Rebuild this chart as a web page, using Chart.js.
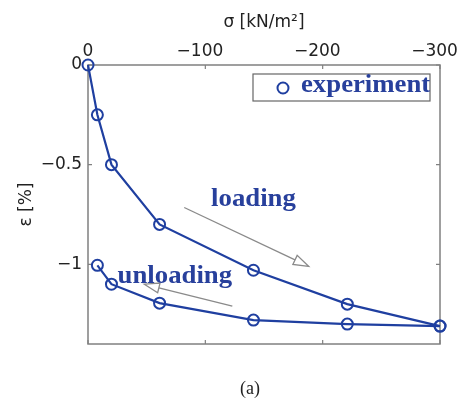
<!DOCTYPE html>
<html>
<head>
<meta charset="utf-8">
<script src="https://cdn.jsdelivr.net/npm/chart.js@4"></script>
<style>
  html, body { margin: 0; padding: 0; background: #fff; }
  #wrap { width: 463px; height: 401px; }
</style>
</head>
<body>
<div id="wrap"><canvas id="strainChart" width="463" height="401"></canvas></div>
<script>
// stress sigma [kN/m2] and strain eps [%]
const sigmaLoading = [0, -8, -20, -61, -141, -221, -300];
const epsLoading = [0, -0.25, -0.5, -0.8, -1.03, -1.2, -1.31];
const sigmaUnloading = [-300, -221, -141, -61, -20, -8];
const epsUnloading = [-1.31, -1.3, -1.28, -1.195, -1.1, -1.005];

const sigmaTicks = [0, -100, -200, -300];
const epsTicks = [0, -0.5, -1];

const blue = '#1f3fa0';
const textBlue = '#28409c';
const frameGrey = '#808080';

function toPoints(xs, ys) {
  return xs.map((x, i) => ({ x: x, y: ys[i] }));
}

function fmt(v) {
  // minus sign as in the printed figure
  return v < 0 ? '\u2212' + Math.abs(v) : String(v);
}

function arrow(ctx, x1, y1, x2, y2) {
  const ang = Math.atan2(y2 - y1, x2 - x1);
  const len = 15, half = 5;
  const bx = x2 - len * Math.cos(ang), by = y2 - len * Math.sin(ang);
  ctx.strokeStyle = '#8a8a8a';
  ctx.lineWidth = 1.3;
  ctx.beginPath();
  ctx.moveTo(x1, y1);
  ctx.lineTo(bx, by);
  ctx.stroke();
  ctx.beginPath();
  ctx.moveTo(x2, y2);
  ctx.lineTo(bx + half * Math.sin(ang), by - half * Math.cos(ang));
  ctx.lineTo(bx - half * Math.sin(ang), by + half * Math.cos(ang));
  ctx.closePath();
  ctx.fillStyle = '#fff';
  ctx.fill();
  ctx.stroke();
}

function serifText(ctx, text, x, y, size, align) {
  ctx.save();
  ctx.font = 'bold ' + size + 'px "Liberation Serif", "Times New Roman", serif';
  ctx.fillStyle = textBlue;
  ctx.textAlign = align;
  ctx.textBaseline = 'middle';
  ctx.translate(x, y);
  ctx.scale(1.07, 1);
  ctx.fillText(text, 0, 0);
  ctx.restore();
}

const framePlugin = {
  id: 'frame',
  beforeDatasetsDraw(chart) {
    const { ctx, chartArea: a, scales } = chart;
    ctx.save();
    ctx.strokeStyle = frameGrey;
    ctx.lineWidth = 1.5;
    ctx.strokeRect(a.left, a.top, a.right - a.left, a.bottom - a.top);
    // inward tick marks on all four sides
    ctx.lineWidth = 1.2;
    ctx.beginPath();
    sigmaTicks.forEach(v => {
      const px = scales.x.getPixelForValue(v);
      ctx.moveTo(px, a.top); ctx.lineTo(px, a.top + 4);
      ctx.moveTo(px, a.bottom); ctx.lineTo(px, a.bottom - 4);
    });
    epsTicks.forEach(v => {
      const py = scales.y.getPixelForValue(v);
      ctx.moveTo(a.left, py); ctx.lineTo(a.left + 4, py);
      ctx.moveTo(a.right, py); ctx.lineTo(a.right - 4, py);
    });
    ctx.stroke();
    ctx.restore();
  },
  afterDatasetsDraw(chart) {
    const { ctx, chartArea: a, scales } = chart;
    const X = v => scales.x.getPixelForValue(v);
    const Y = v => scales.y.getPixelForValue(v);
    ctx.save();
    // direction arrows
    arrow(ctx, X(-82), Y(-0.715), X(-188), Y(-1.01));
    arrow(ctx, X(-123), Y(-1.21), X(-48), Y(-1.1));
    serifText(ctx, 'loading', X(-141), Y(-0.675), 25, 'center');
    serifText(ctx, 'unloading', X(-74), Y(-1.06), 25, 'center');

    // legend box
    const lx = a.right - 187, ly = a.top + 9, lw = 177, lh = 27;
    ctx.fillStyle = '#fff';
    ctx.fillRect(lx, ly, lw, lh);
    ctx.strokeStyle = '#666';
    ctx.lineWidth = 1.2;
    ctx.strokeRect(lx, ly, lw, lh);
    ctx.strokeStyle = blue;
    ctx.lineWidth = 2;
    ctx.beginPath();
    ctx.arc(lx + 30, ly + 14, 5.5, 0, Math.PI * 2);
    ctx.stroke();
    serifText(ctx, 'experiment', lx + 48, ly + 12, 25, 'left');

    // panel caption
    ctx.font = '18px "Liberation Serif", "Times New Roman", serif';
    ctx.fillStyle = '#222';
    ctx.textAlign = 'center';
    ctx.textBaseline = 'middle';
    ctx.fillText('(a)', 250, 389);
    ctx.restore();
  }
};

const tickFont = { family: '"DejaVu Sans", sans-serif', size: 17 };

new Chart(document.getElementById('strainChart'), {
  type: 'scatter',
  data: {
    datasets: [
      {
        label: 'loading',
        data: toPoints(sigmaLoading, epsLoading),
        showLine: true,
        borderColor: blue,
        borderWidth: 2.2,
        pointStyle: 'circle',
        pointRadius: 5.5,
        pointBorderWidth: 2,
        pointBorderColor: blue,
        pointBackgroundColor: 'rgba(0,0,0,0)'
      },
      {
        label: 'unloading',
        data: toPoints(sigmaUnloading, epsUnloading),
        showLine: true,
        borderColor: blue,
        borderWidth: 2.2,
        pointStyle: 'circle',
        pointRadius: 5.5,
        pointBorderWidth: 2,
        pointBorderColor: blue,
        pointBackgroundColor: 'rgba(0,0,0,0)'
      }
    ]
  },
  options: {
    responsive: false,
    animation: false,
    clip: false,
    layout: { padding: { left: 0, right: 23, top: 0, bottom: 57 } },
    plugins: {
      legend: { display: false },
      tooltip: { enabled: false }
    },
    scales: {
      x: {
        type: 'linear',
        position: 'top',
        reverse: true,
        min: -300,
        max: 0,
        grid: { display: false, drawTicks: false },
        border: { display: false },
        afterBuildTicks: s => { s.ticks = sigmaTicks.map(v => ({ value: v })); },
        afterFit: s => { s.height = 65; s.paddingLeft = 0; s.paddingRight = 0; },
        ticks: {
          color: '#222',
          font: tickFont,
          padding: 3,
          maxRotation: 0,
          // keep the digits centred on the tick like the printed axis
          callback: v => v < 0 ? fmt(v) + '\u2007' : fmt(v)
        },
        title: {
          display: true,
          text: 'σ [kN/m²]',
          color: '#222',
          font: { family: '"DejaVu Sans", sans-serif', size: 17 },
          padding: { top: 12, bottom: 0 }
        }
      },
      y: {
        type: 'linear',
        min: -1.4,
        max: 0,
        grid: { display: false, drawTicks: false },
        border: { display: false },
        afterBuildTicks: s => { s.ticks = epsTicks.map(v => ({ value: v })); },
        afterFit: s => { s.width = 88; s.paddingTop = 0; s.paddingBottom = 0; },
        ticks: {
          color: '#222',
          font: tickFont,
          padding: 6,
          callback: v => fmt(v)
        },
        title: {
          display: true,
          text: 'ε [%]',
          color: '#222',
          font: { family: '"DejaVu Sans", sans-serif', size: 17 },
          padding: { top: 16, bottom: 0 }
        }
      }
    }
  },
  plugins: [framePlugin]
});
</script>
</body>
</html>
